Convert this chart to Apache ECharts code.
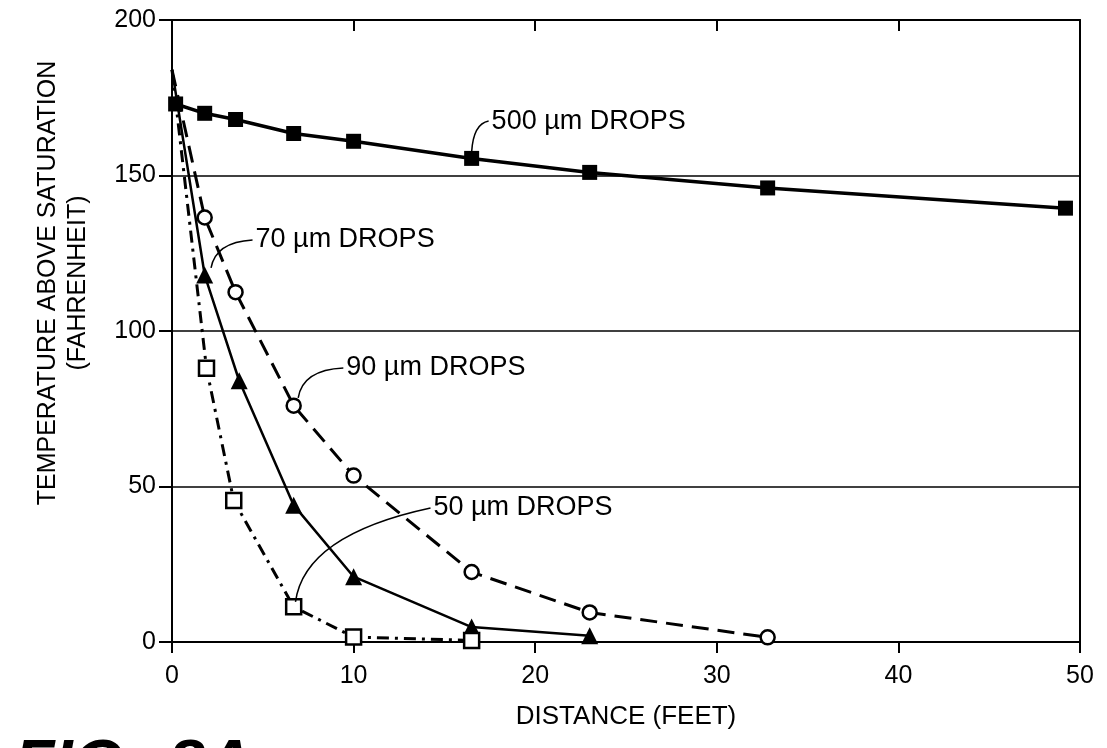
<!DOCTYPE html>
<html>
<head>
<meta charset="utf-8">
<script src="https://cdn.jsdelivr.net/npm/echarts@6/dist/echarts.min.js"></script>
<style>
  html, body { margin: 0; padding: 0; background: #fff; }
  #chart { width: 1107px; height: 748px; }
</style>
</head>
<body>
<div id="chart"></div>
<script>
// distances (feet) and temperatures above saturation (F)
const x500 = [0.2, 1.8, 3.5, 6.7, 10, 16.5, 23, 32.8, 49.2];
const y500 = [173, 170, 168, 163.5, 161, 155.5, 151, 146, 139.5];
const x90 = [0, 1.8, 3.5, 6.7, 10, 16.5, 23, 32.8];
const y90 = [184, 136.5, 112.5, 76, 53.5, 22.5, 9.5, 1.5];
const x70 = [0, 1.8, 3.7, 6.7, 10, 16.5, 23];
const y70 = [184, 118, 84, 44, 21, 4.8, 2];
const x50 = [0, 1.9, 3.4, 6.7, 10, 16.5];
const y50 = [184, 88, 45.5, 11.3, 1.6, 0.5];

const xTicks = [0, 10, 20, 30, 40, 50];
const yTicks = [0, 50, 100, 150, 200];

// callout labels (data coords): text anchor, leader end, leader control point
const calloutText = ['500 µm DROPS', '70 µm DROPS', '90 µm DROPS', '50 µm DROPS'];
const calloutAt = [[17.6, 167.5], [4.6, 129.3], [9.6, 88.1], [14.4, 43.1]];
const calloutEnd = [[16.5, 157.6], [2.15, 120.3], [6.95, 78.5], [6.8, 12.9]];
const calloutCtrl = [[16.6, 166.6], [2.4, 128.6], [7.2, 87.5], [7.3, 34.4]];

const FONT = '"Liberation Sans", Arial, Helvetica, sans-serif';

// first point of the small-drop curves has no marker
const pairs = (xs, ys, skipFirst) => xs.map((x, i) => {
    if (skipFirst && i === 0) return { value: [x, ys[i]], symbol: 'none' };
    return [x, ys[i]];
});

const chart = echarts.init(document.getElementById('chart'), null, { renderer: 'canvas' });

const option = {
    backgroundColor: '#fff',
    animation: false,
    grid: { left: 172, right: 27, top: 20, bottom: 106 },
    xAxis: [
        {
            type: 'value',
            min: xTicks[0],
            max: xTicks[xTicks.length - 1],
            interval: 10,
            name: 'DISTANCE (FEET)',
            nameLocation: 'middle',
            nameGap: 62,
            nameTextStyle: { fontFamily: FONT, fontSize: 26, color: '#000' },
            axisLine: { show: true, onZero: false, lineStyle: { color: '#000', width: 2 } },
            axisTick: { show: true, inside: false, length: 11, lineStyle: { color: '#000', width: 2 } },
            axisLabel: { fontFamily: FONT, fontSize: 25, color: '#000', margin: 22 },
            splitLine: { show: false }
        },
        {
            type: 'value',
            position: 'top',
            min: xTicks[0],
            max: xTicks[xTicks.length - 1],
            interval: 10,
            axisLine: { show: true, onZero: false, lineStyle: { color: '#000', width: 2 } },
            axisTick: { show: true, inside: true, length: 11, lineStyle: { color: '#000', width: 2 } },
            axisLabel: { show: false },
            splitLine: { show: false }
        }
    ],
    yAxis: [
        {
            type: 'value',
            min: yTicks[0],
            max: yTicks[yTicks.length - 1],
            interval: 50,
            axisLine: { show: true, onZero: false, lineStyle: { color: '#000', width: 2 } },
            axisTick: { show: true, inside: false, length: 13, lineStyle: { color: '#000', width: 2 } },
            axisLabel: { fontFamily: FONT, fontSize: 25, color: '#000', margin: 16 },
            splitLine: { show: true, lineStyle: { color: '#000', width: 1.5 } }
        },
        {
            type: 'value',
            position: 'right',
            min: yTicks[0],
            max: yTicks[yTicks.length - 1],
            interval: 50,
            axisLine: { show: true, onZero: false, lineStyle: { color: '#000', width: 2 } },
            axisTick: { show: false },
            axisLabel: { show: false },
            splitLine: { show: false }
        }
    ],
    series: [
        {
            name: '500 µm',
            type: 'line',
            data: pairs(x500, y500, false),
            symbol: 'rect',
            symbolSize: 15,
            itemStyle: { color: '#000' },
            lineStyle: { color: '#000', width: 3.5 },
            z: 5
        },
        {
            name: '90 µm',
            type: 'line',
            data: pairs(x90, y90, true),
            symbol: 'circle',
            symbolSize: 14,
            showAllSymbol: true,
            itemStyle: { color: '#fff', borderColor: '#000', borderWidth: 2.5 },
            lineStyle: { color: '#000', width: 3, type: [17, 9] },
            z: 4
        },
        {
            name: '70 µm',
            type: 'line',
            data: pairs(x70, y70, true),
            symbol: 'triangle',
            symbolSize: 17,
            itemStyle: { color: '#000' },
            lineStyle: { color: '#000', width: 2.5 },
            z: 4
        },
        {
            name: '50 µm',
            type: 'line',
            data: pairs(x50, y50, true),
            symbol: 'rect',
            symbolSize: 15,
            itemStyle: { color: '#fff', borderColor: '#000', borderWidth: 2.5 },
            lineStyle: { color: '#000', width: 3, type: [12, 6, 3, 6] },
            z: 4
        }
    ]
};

chart.setOption(option);

// callouts, y-axis title and figure caption
const toPx = p => chart.convertToPixel({ gridIndex: 0 }, p);
const graphics = [];
calloutText.forEach((txt, i) => {
    const at = toPx(calloutAt[i]);
    const end = toPx(calloutEnd[i]);
    const cp = toPx(calloutCtrl[i]);
    graphics.push({
        type: 'bezierCurve',
        shape: { x1: at[0] - 3, y1: at[1], x2: end[0], y2: end[1], cpx1: cp[0], cpy1: cp[1] },
        style: { stroke: '#000', lineWidth: 1.5, fill: null },
        z: 10
    });
    graphics.push({
        type: 'text',
        x: at[0],
        y: at[1],
        style: { text: txt, fontFamily: FONT, fontSize: 27, fill: '#000', align: 'left', verticalAlign: 'middle' },
        z: 10
    });
});
graphics.push({
    type: 'text',
    x: 48,
    y: 283,
    rotation: Math.PI / 2,
    style: { text: 'TEMPERATURE ABOVE SATURATION', fontFamily: FONT, fontSize: 25, fill: '#000', align: 'center', verticalAlign: 'middle' }
});
graphics.push({
    type: 'text',
    x: 78,
    y: 283,
    rotation: Math.PI / 2,
    style: { text: '(FAHRENHEIT)', fontFamily: FONT, fontSize: 25, fill: '#000', align: 'center', verticalAlign: 'middle' }
});
graphics.push({
    type: 'text',
    x: 14,
    y: 735,
    style: { text: 'FIG', fontFamily: FONT, fontSize: 66, fontWeight: 'bold', fontStyle: 'italic', fill: '#000', align: 'left', verticalAlign: 'top' }
});
graphics.push({
    type: 'text',
    x: 168,
    y: 735,
    style: { text: '8A', fontFamily: FONT, fontSize: 66, fontWeight: 'bold', fontStyle: 'italic', fill: '#000', align: 'left', verticalAlign: 'top' }
});
chart.setOption({ graphic: graphics });
</script>
</body>
</html>
